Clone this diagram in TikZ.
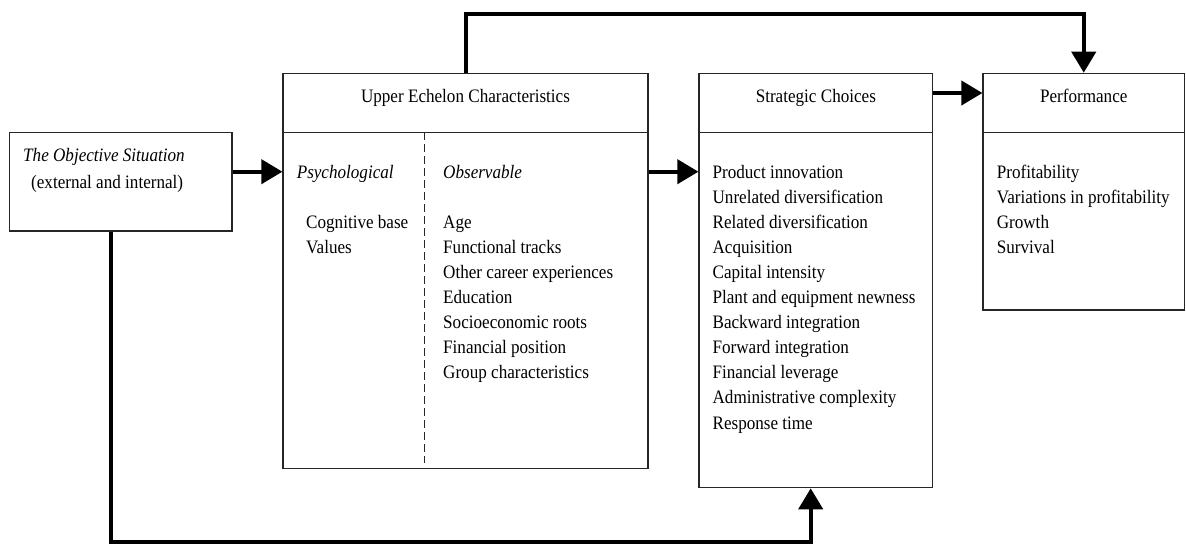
\documentclass[tikz,border=0pt]{standalone}
\usepackage{fontspec}
\setmainfont{Liberation Serif}[FakeStretch=0.9]
\usetikzlibrary{arrows.meta}
\begin{document}
\begin{tikzpicture}[x=1pt,y=-1pt,
  box/.style={draw=black!85, line width=1.2pt, rectangle, inner sep=0pt},
  rule/.style={draw=black!85, line width=1.2pt},
  txt/.style={inner sep=0pt, anchor=base west, font=\fontsize{19}{25}\selectfont},
  ttl/.style={inner sep=0pt, anchor=base, font=\fontsize{19}{25}\selectfont},
  conn/.style={line width=4pt, -{Triangle[length=21pt,width=24pt]}}]
\useasboundingbox (0,0) rectangle (1186,544);

% boxes
\node[box, minimum width=222.4pt, minimum height=98.7pt] (obj) at (120.8,181.65) {};
\node[box, minimum width=365pt, minimum height=395pt] (ue) at (465.5,270.8) {};
\node[box, minimum width=233.7pt, minimum height=414.4pt] (sc) at (815.85,280.5) {};
\node[box, minimum width=201.5pt, minimum height=236.7pt] (perf) at (1083.75,191.65) {};

% header rules
\coordinate (hy) at (0,132.3);
\foreach \b in {ue,sc,perf} \draw[rule] (\b.west |- hy) -- (\b.east |- hy);
\draw[black!85, line width=1pt, dash pattern=on 8pt off 4pt] (424.8,132.3) -- (424.8,463);

% titles
\node[ttl] (uet) at (465.5,102) {Upper Echelon Characteristics};
\node[ttl] (sct) at (815.85,102) {Strategic Choices};
\node[ttl] (perft) at (1083.75,102) {Performance};

% objective situation
\node[txt] (obj1) at (23,161) {\itshape The Objective Situation};
\node[txt] (obj2) at (31,188) {(external and internal)};

% upper echelon contents
\node[txt] (psy) at (296.6,178) {\itshape Psychological};
\node[txt] (obs) at (443,178) {\itshape Observable};
\node[txt] (cog) at (306,228) {Cognitive base};
\node[txt] (val) at (306,253.1) {Values};
\foreach \t [count=\i from 0] in {Age, Functional tracks, Other career experiences, Education, Socioeconomic roots, Financial position, Group characteristics}
  \node[txt] (ob\i) at (443,{228+25.1*\i}) {\t};

% strategic choices
\foreach \t [count=\i from 0] in {Product innovation, Unrelated diversification, Related diversification, Acquisition, Capital intensity, Plant and equipment newness, Backward integration, Forward integration, Financial leverage, Administrative complexity, Response time}
  \node[txt] (sc\i) at (712.4,{178+25.1*\i}) {\t};

% performance
\foreach \t [count=\i from 0] in {Profitability, Variations in profitability, Growth, Survival}
  \node[txt] (pf\i) at (996.6,{178+25.1*\i}) {\t};

% connectors
\coordinate (r1) at (0,171.7);
\coordinate (r0) at (0,93);
\coordinate (top) at (0,14);
\coordinate (bot) at (0,542);
\coordinate (xl) at (111,0);
\coordinate (xr) at (810.7,0);
\draw[conn] (obj.east |- r1) -- (ue.west |- r1);
\draw[conn] (ue.east |- r1) -- (sc.west |- r1);
\draw[conn] (sc.east |- r0) -- (perf.west |- r0);
\draw[conn] (ue.north) -- (ue.north |- top) -| (perf.north);
\draw[conn] (obj.south -| xl) -- (xl |- bot) -- (xr |- bot) -- (sc.south -| xr);
\end{tikzpicture}
\end{document}
